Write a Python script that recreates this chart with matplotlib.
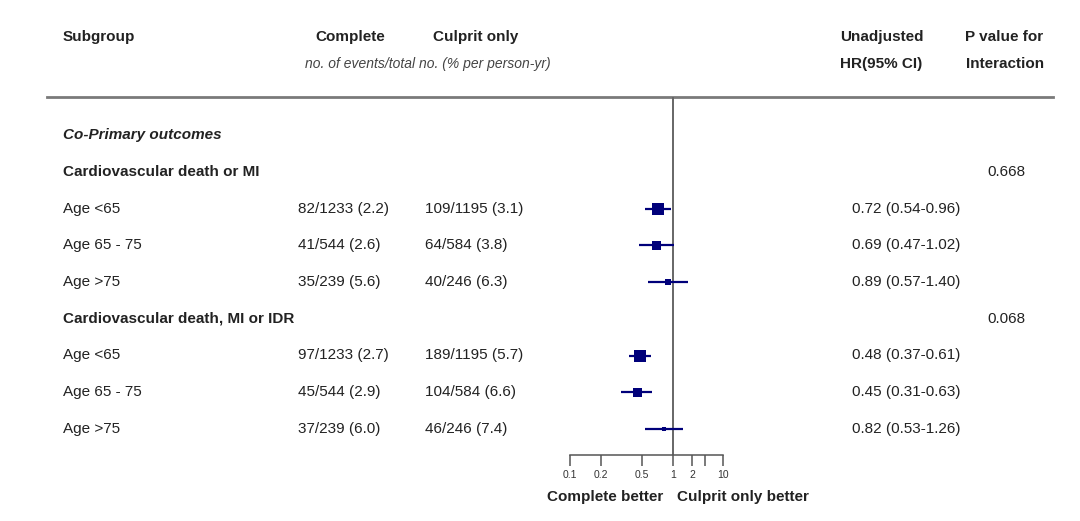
import numpy as np
import matplotlib.pyplot as plt

plt.rcParams['font.family'] = ['Liberation Sans', 'DejaVu Sans']

# data
subgroups = ['Age <65', 'Age 65 - 75', 'Age >75']
outcomes = ['Cardiovascular death or MI', 'Cardiovascular death, MI or IDR']
complete = [['82/1233 (2.2)', '41/544 (2.6)', '35/239 (5.6)'],
            ['97/1233 (2.7)', '45/544 (2.9)', '37/239 (6.0)']]
culprit = [['109/1195 (3.1)', '64/584 (3.8)', '40/246 (6.3)'],
           ['189/1195 (5.7)', '104/584 (6.6)', '46/246 (7.4)']]
hr = [[0.72, 0.69, 0.89], [0.48, 0.45, 0.82]]
ci_lo = [[0.54, 0.47, 0.57], [0.37, 0.31, 0.53]]
ci_hi = [[0.96, 1.02, 1.40], [0.61, 0.63, 1.26]]
p_interaction = ['0.668', '0.068']
tick_labels = ['0.1', '0.2', '0.5', '1', '2', '', '10']

# layout (pixels)
W, H = 1080, 521
box_px = [[12, 9, 6], [12, 9, 5]]
tick_pos = [0.1, 0.2, 0.5, 1, 1.53, 2.04, 3.06]  # where the ticks sit on the drawn axis
px_decade = 103
x_one = 673
fx0, fx1 = 530, 790
top, bottom = 97, 455
navy = '#00007a'
txt = '#222222'
fs = 11

def row_y(i):
    return 135 + i * 36.75

fig = plt.figure(figsize=(W / 100, H / 100), dpi=100)

tax = fig.add_axes([0, 0, 1, 1])
tax.set_xlim(0, W)
tax.set_ylim(H, 0)
tax.axis('off')

fax = fig.add_axes([fx0 / W, 1 - bottom / H, (fx1 - fx0) / W, (bottom - top) / H])
fax.set_xscale('log')
fax.set_xlim(10 ** ((fx0 - x_one) / px_decade), 10 ** ((fx1 - x_one) / px_decade))
fax.set_ylim(bottom, top)
fax.patch.set_alpha(0)

# headers
hb = dict(fontsize=fs, fontweight='bold', color=txt, va='center')
tax.text(63, 37, 'Subgroup', **hb)
tax.text(315, 37, 'Complete', **hb)
tax.text(433, 37, 'Culprit only', **hb)
tax.text(305, 64, 'no. of events/total no. (% per person-yr)', fontsize=10,
         style='italic', color='#444444', va='center')
tax.text(840, 37, 'Unadjusted', **hb)
tax.text(840, 64, 'HR(95% CI)', **hb)
tax.text(965, 37, 'P value for', **hb)
tax.text(966, 64, 'Interaction', **hb)
tax.plot([47, 1053], [97, 97], color='#7a7a7a', lw=2)

tax.text(63, row_y(0), 'Co-Primary outcomes', fontsize=fs, fontweight='bold',
         style='italic', color=txt, va='center')

row = 1
for k, name in enumerate(outcomes):
    tax.text(63, row_y(row), name, **hb)
    tax.text(987, row_y(row), p_interaction[k], fontsize=fs, color=txt, va='center')
    row += 1
    for j, sg in enumerate(subgroups):
        y = row_y(row)
        tax.text(63, y, sg, fontsize=fs, color=txt, va='center')
        tax.text(298, y, complete[k][j], fontsize=fs, color=txt, va='center')
        tax.text(425, y, culprit[k][j], fontsize=fs, color=txt, va='center')
        tax.text(852, y, f'{hr[k][j]:.2f} ({ci_lo[k][j]:.2f}-{ci_hi[k][j]:.2f})',
                 fontsize=fs, color=txt, va='center')
        fax.plot([ci_lo[k][j], ci_hi[k][j]], [y, y], color=navy, lw=1.6,
                 solid_capstyle='butt')
        fax.plot(hr[k][j], y, marker='s', color=navy, ms=box_px[k][j] * 0.72, mew=0)
        row += 1

fax.axvline(1, color='#666666', lw=1.4, zorder=0)

for s in ['top', 'left', 'right']:
    fax.spines[s].set_visible(False)
fax.spines['bottom'].set_bounds(tick_pos[0], tick_pos[-1])
fax.spines['bottom'].set_color('#555555')
fax.spines['bottom'].set_linewidth(1.1)
fax.set_yticks([])
fax.set_xticks(tick_pos)
fax.set_xticklabels(tick_labels)
fax.minorticks_off()
fax.tick_params(axis='x', length=8, width=1.1, color='#555555', labelsize=7.5,
                labelcolor='#333333', pad=3)

tax.text(x_one - 10, 497, 'Complete better', fontsize=fs, fontweight='bold',
         color=txt, ha='right', va='center')
tax.text(x_one + 4, 497, 'Culprit only better', fontsize=fs, fontweight='bold',
         color=txt, ha='left', va='center')

fig.savefig('out.png', dpi=100)
